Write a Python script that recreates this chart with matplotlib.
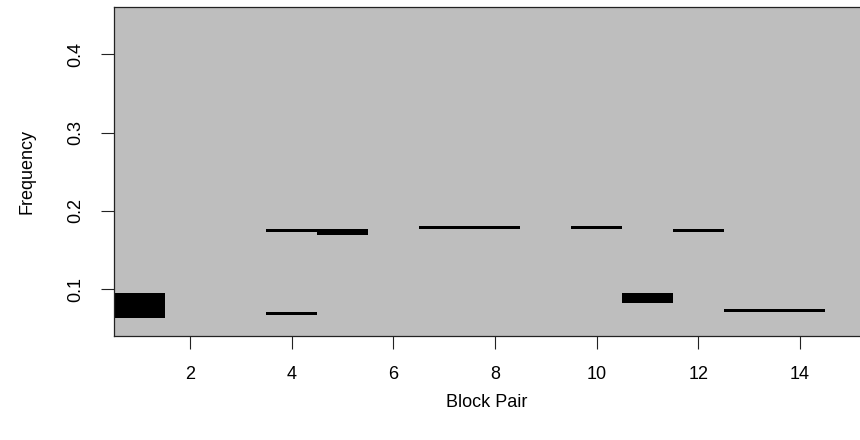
import numpy as np
import matplotlib.pyplot as plt

plt.rcParams['font.family'] = ['Liberation Sans', 'DejaVu Sans']

# one entry per drawn segment: block pair, lower and upper frequency
pairs = [1, 4, 4, 5, 7, 8, 10, 11, 12, 13, 14]
lows = [0.0657, 0.0691, 0.1751, 0.1712, 0.1792, 0.1792, 0.1792, 0.0844, 0.1751, 0.0729, 0.0729]
highs = [0.0937, 0.0691, 0.1751, 0.1751, 0.1792, 0.1792, 0.1792, 0.0934, 0.1751, 0.0729, 0.0729]

x_ticks = [2, 4, 6, 8, 10, 12, 14]
y_ticks = [0.1, 0.2, 0.3, 0.4]

fig = plt.figure(figsize=(8.6, 4.4), dpi=100)
ax = fig.add_axes([113.75 / 860, 104 / 440, 1 - 113.75 / 860, 329 / 440])
ax.set_facecolor('#bebebe')
ax.set_xlim(0.5, 15.18)
ax.set_ylim(0.0404, 0.4604)

# half of a 3 px line, in data units of y
inv = ax.transData.inverted()
half = inv.transform((0, 1.5))[1] - inv.transform((0, 0))[1]

for p, lo, hi in zip(pairs, lows, highs):
    ax.fill_between([p - 0.5, p + 0.5], lo - half, hi + half,
                    color='black', linewidth=0, antialiased=False)

ax.spines['right'].set_visible(False)
for s in ['left', 'bottom', 'top']:
    ax.spines[s].set_linewidth(0.9)
    ax.spines[s].set_color('#222222')

ax.set_xticks(x_ticks)
ax.set_xticklabels([str(t) for t in x_ticks], fontsize=13)
ax.set_yticks(y_ticks)
ax.set_yticklabels([str(t) for t in y_ticks], fontsize=13, rotation=90, va='center')
ax.tick_params(axis='x', length=9.4, width=0.8, color='#222222', pad=12)
ax.tick_params(axis='y', length=9.4, width=0.8, color='#222222', pad=12)

ax.set_xlabel('Block Pair', fontsize=13, labelpad=8)
ax.set_ylabel('Frequency', fontsize=13, labelpad=23)

fig.savefig('out.png', dpi=100)
